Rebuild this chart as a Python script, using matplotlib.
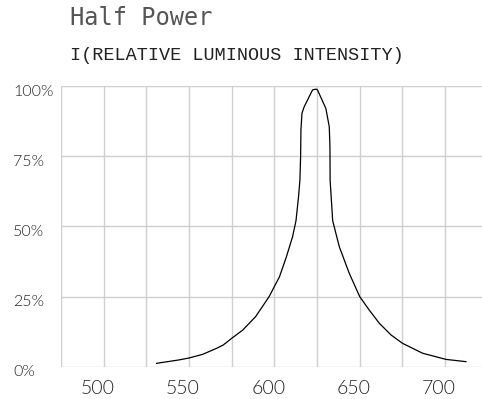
import matplotlib
matplotlib.use("Agg")
import matplotlib.pyplot as plt
import matplotlib.transforms as mtransforms
import numpy as np

# wavelength (nm) vs relative luminous intensity (%)
wavelength = [531, 544, 550, 558, 566, 570, 575, 581.4, 589, 597, 600.4, 603,
              607, 610.7, 612.7, 614.2, 615, 615.4, 615.6, 616.2, 617.5, 622.4,
              624.4, 625.3, 630.2, 632.2, 632.6, 632.7, 634.2, 638.1, 643.9,
              650, 655.6, 661.5, 668.4, 675.2, 686.9, 700.6, 712.3]
intensity = [1.2, 2.4, 3.1, 4.4, 6.5, 7.7, 10.1, 13.0, 17.8, 25.0, 29.0, 32.0,
             39.0, 46.3, 52.0, 60.6, 66.5, 74.8, 84.3, 90.3, 92.6, 98.6,
             98.9, 98.6, 92.0, 85.5, 78.4, 66.5, 52.0, 42.7, 33.3,
             25.0, 20.2, 15.5, 11.3, 8.3, 4.8, 2.6, 1.8]

x_ticks = [500, 550, 600, 650, 700]
x_grid = [475, 500, 525, 550, 575, 600, 625, 650, 675, 700]
y_ticks = [0, 25, 50, 75, 100]
y_labels = ["0%", "25%", "50%", "75%", "100%"]

fig = plt.figure(figsize=(4.82, 3.99), dpi=100)
ax = fig.add_axes([61 / 482, 1 - 366.7 / 399, 1 - 61 / 482, (366.7 - 86) / 399])

grid_col = "#cfcfcf"
for g in x_grid:
    ax.axvline(g, color=grid_col, lw=1.0, zorder=1)
for g in y_ticks:
    ax.axhline(g, color=grid_col, lw=1.0, zorder=1)

ax.plot(wavelength, intensity, color="black", lw=0.9, zorder=3)

ax.set_xlim(475, 721.7)
ax.set_ylim(0, 100)
for s in ax.spines.values():
    s.set_visible(False)

ax.set_xticks(x_ticks)
ax.set_yticks(y_ticks)
ax.set_yticklabels(y_labels)
ax.tick_params(length=0)
ax.tick_params(axis="x", pad=9.5)
ax.tick_params(axis="y", pad=34.5)

for lab in ax.get_xticklabels():
    lab.set(family=["Lato", "DejaVu Sans"], weight=300, size=14, color="#222222")
    lab.set_transform(lab.get_transform() +
                      mtransforms.ScaledTranslation(-6 / 100, 0, fig.dpi_scale_trans))
for lab in ax.get_yticklabels():
    lab.set(family=["Lato", "DejaVu Sans"], weight=300, size=11.5, color="#222222", ha="left")
    lab.set_transform(lab.get_transform() +
                      mtransforms.ScaledTranslation(0, -4 / 100, fig.dpi_scale_trans))

fig.text(70 / 482, 1 - 25 / 399, "Half Power", family=["DejaVu Sans Mono"],
         size=17, color="#555555", ha="left", va="baseline")
fig.text(70 / 482, 1 - 60 / 399, "I(RELATIVE LUMINOUS INTENSITY)",
         family=["Liberation Mono", "DejaVu Sans Mono"], size=13.3,
         color="#222222", ha="left", va="baseline")

fig.savefig("out.png", dpi=100, facecolor="white")
